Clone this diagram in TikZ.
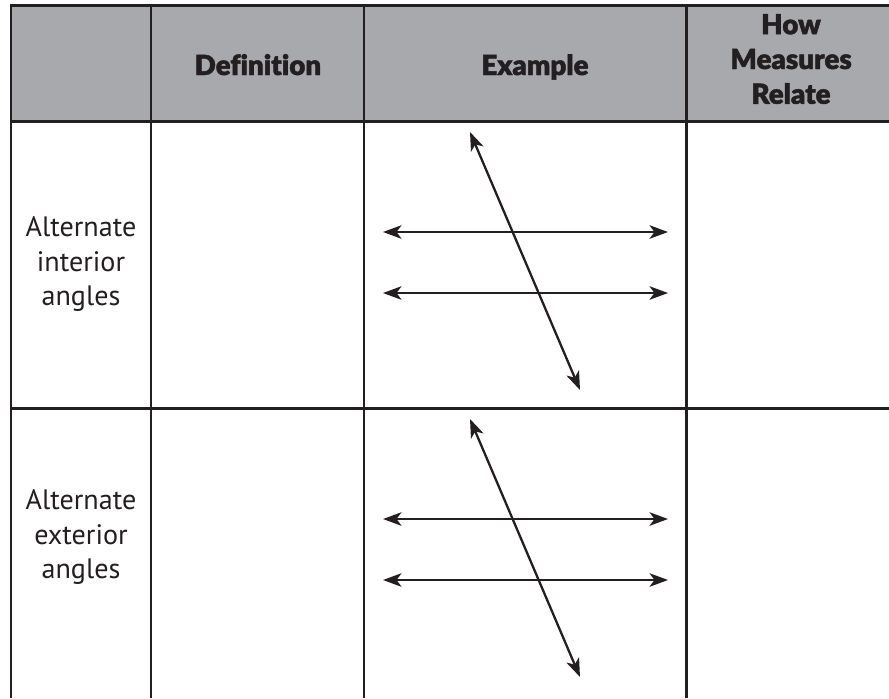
\documentclass[tikz,border=0pt]{standalone}
\usepackage{fontspec}
\setmainfont{PT Sans}
\newfontfamily\headfont{Lato Black}[FakeBold=1.6,Ligatures=NoCommon]
\usetikzlibrary{arrows.meta}
\definecolor{rule}{HTML}{231F20}
\definecolor{headgray}{HTML}{A7A9AC}

\begin{document}
\begin{tikzpicture}[x=0.02cm,y=-0.02cm,line join=miter,
	grid/.style={draw=rule,line width=1.7pt},
	headtxt/.style={font=\headfont\fontsize{15.8}{19.8}\selectfont,text=rule,align=center,inner sep=0pt},
	rowtxt/.style={font=\fontsize{16}{19.4}\selectfont,text=rule,align=center,inner sep=0pt},
	dbl/.style={draw=rule,line width=1.3pt,{Stealth[length=0.37cm,width=0.27cm,inset=0.1cm]}-{Stealth[length=0.37cm,width=0.27cm,inset=0.1cm]}}]
	\useasboundingbox (0,0) rectangle (889,698);
	% header band and rules
	\fill[headgray] (11,5) rectangle (889,121);
	\draw[grid] (889,5) -- (11,5) -- (11,698);
	\foreach \x in {151,364,686} \draw[grid] (\x,5) -- (\x,698);
	\foreach \y in {121,408} \draw[grid] (11,\y) -- (889,\y);
	% headings
	\node[headtxt,anchor=base] (def) at (258,75) {Definition};
	\node[headtxt,anchor=base] (ex) at (535,75) {Example};
	\node[headtxt] (rel) at (791,59) {How\\Measures\\Relate};
	% row labels
	\node[rowtxt] (aia) at (81,264) {Alternate\\interior\\angles};
	\node[rowtxt] (aea) at (81,537) {Alternate\\exterior\\angles};
	% parallel lines cut by a transversal
	\foreach \r/\dy in {i/0, e/287}{
		\coordinate (T\r) at (470,{132+\dy});
		\coordinate (B\r) at (580,{390+\dy});
		\coordinate (L\r1) at (383,{232+\dy});
		\coordinate (R\r1) at (668,{232+\dy});
		\coordinate (L\r2) at (383,{293+\dy});
		\coordinate (R\r2) at (668,{293+\dy});
		\draw[dbl] (L\r1) -- (R\r1);
		\draw[dbl] (L\r2) -- (R\r2);
		\draw[dbl] (T\r) -- (B\r);
	};
\end{tikzpicture}
\end{document}
